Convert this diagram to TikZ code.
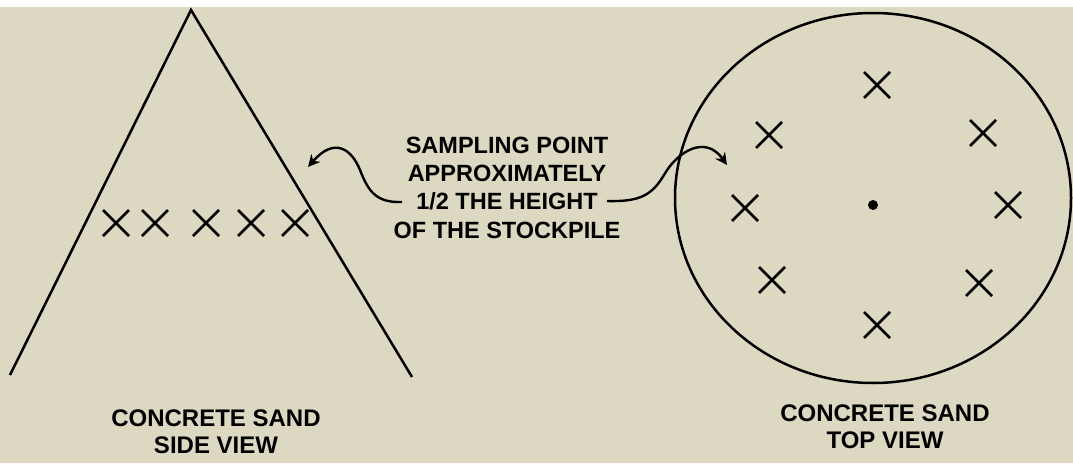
\documentclass[tikz,border=0pt]{standalone}
\usepackage{fontspec}
\setmainfont{Liberation Sans}
\usetikzlibrary{arrows.meta}
\definecolor{bgbeige}{HTML}{DCD8C2}
\tikzset{
  thick line/.style={line width=2.5pt, black},
  crossline/.style={line width=2.6pt, black, line cap=butt},
  xcross/.pic={\draw[crossline] (-13,-13)--(13,13) (-13,13)--(13,-13);},
  labeltext/.style={font=\fontsize{24}{27}\selectfont\bfseries, align=center, inner sep=0pt},
  midtext/.style={font=\fontsize{23.5}{28.3}\selectfont\bfseries, align=center, inner sep=0pt},
  curvearrow/.style={line width=2.4pt, -{Stealth[length=12pt,width=12pt,inset=4pt]}},
}
\begin{document}
\begin{tikzpicture}[x=1pt,y=-1pt]
\useasboundingbox (0,0) rectangle (1073,463);
\fill[white] (0,0) rectangle (1073,7);
\fill[bgbeige] (0,7) rectangle (1073,463);
% side view
\coordinate (apex) at (191,10);
\coordinate (bl) at (10,375);
\coordinate (br) at (412,377);
\draw[thick line] (bl) -- (apex) -- (br);
\foreach \i/\x in {1/116,2/155,3/206,4/251,5/295}{
  \pic (s\i) at (\x,223) {xcross};
}
% top view
\coordinate (cc) at (873,198);
\draw[thick line] (cc) ellipse [x radius=198, y radius=185];
\fill (873,205) circle (5);
\foreach \i/\p in {1/{(877,85)},2/{(769,135)},3/{(983,133)},4/{(745,208)},5/{(1008,205)},6/{(772,280)},7/{(979,283)},8/{(877,325)}}{
  \pic (t\i) at \p {xcross};
}
% middle text (base anchor = last line baseline)
\node[midtext, anchor=base] (mid) at (507,238) {SAMPLING POINT\\APPROXIMATELY\\1/2 THE HEIGHT\\OF THE STOCKPILE};
\coordinate (lstart) at (402,202);
\coordinate (ltip) at (308,167);
\coordinate (rstart) at (607,201);
\coordinate (rtip) at (727,165);
\draw[curvearrow] (lstart) .. controls (375,203) and (368,190) .. (360,170) .. controls (352,150) and (335,136) .. (ltip);
\draw[curvearrow] (rstart) .. controls (640,202) and (652,195) .. (664,175) .. controls (677,152) and (705,134) .. (rtip);
% labels
\node[labeltext, anchor=base] (sidelabel) at (216,453) {CONCRETE SAND\\SIDE VIEW};
\node[labeltext, anchor=base] (toplabel) at (885,448) {CONCRETE SAND\\TOP VIEW};
\end{tikzpicture}
\end{document}
